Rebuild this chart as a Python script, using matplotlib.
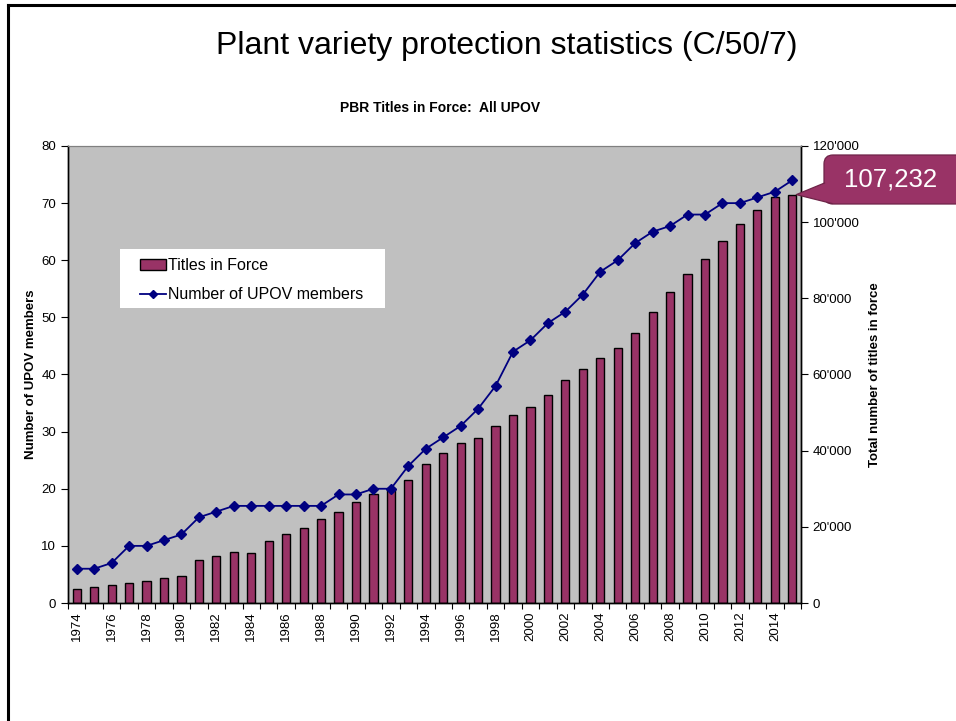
import matplotlib
matplotlib.use("Agg")
import matplotlib.pyplot as plt
from matplotlib.lines import Line2D
from matplotlib.patches import Patch, FancyBboxPatch, Polygon, Rectangle
from matplotlib.ticker import FuncFormatter, MultipleLocator

# --- Data ---
years = list(range(1974, 2016))
titles_in_force = [
    3600, 4300, 4700, 5300, 5800, 6500, 7200, 11300, 12400, 13400,
    13250, 16400, 18100, 19750, 22100, 24000, 26600, 28500, 30300, 32200,
    36400, 39400, 42100, 43200, 46350, 49300, 51350, 54600, 58450, 61450,
    64250, 66900, 70850, 76500, 81600, 86500, 90400, 95050, 99400, 103200,
    106500, 107232,
]
upov_members = [
    6, 6, 7, 10, 10, 11, 12, 15, 16, 17,
    17, 17, 17, 17, 17, 19, 19, 20, 20, 24,
    27, 29, 31, 34, 38, 44, 46, 49, 51, 54,
    58, 60, 63, 65, 66, 68, 68, 70, 70, 71,
    72, 74,
]
callout_text = "107,232"

BAR_COLOR = "#993366"
BAR_EDGE_DARK = "#6e2448"
LINE_COLOR = "#000080"
PLOT_BG = "#C0C0C0"
FONT = ["Liberation Sans", "DejaVu Sans"]

plt.rcParams["font.family"] = FONT

W, H = 956, 721
fig = plt.figure(figsize=(W / 100, H / 100), dpi=100)

# slide frame (left and top edges only)
fig.add_artist(Line2D([8 / W, 8 / W], [0, 1 - 5 / H], color="black", linewidth=2.2))
fig.add_artist(Line2D([8 / W, 1], [1 - 5 / H, 1 - 5 / H], color="black", linewidth=2.2))

fig.text(507 / W, 1 - 46 / H, "Plant variety protection statistics (C/50/7)",
         ha="center", va="center", fontsize=23)
fig.text(440 / W, 1 - 108 / H, "PBR Titles in Force:  All UPOV",
         ha="center", va="center", fontsize=10, fontweight="bold")

x = list(range(len(years)))

ax_line = fig.add_axes([68 / W, 1 - 603 / H, (801 - 68) / W, (603 - 146) / H])
ax_bar = ax_line.twinx()
ax_line.set_zorder(ax_bar.get_zorder() + 1)
ax_line.patch.set_visible(False)
ax_bar.patch.set_visible(True)
ax_bar.patch.set_facecolor(PLOT_BG)

ax_bar.bar(x, titles_in_force, width=0.47, color=BAR_COLOR, edgecolor="black",
           linewidth=1.0, label="Titles in Force")
ax_line.plot(x, upov_members, color=LINE_COLOR, linewidth=1.3, marker="D",
             markersize=5, label="Number of UPOV members")

ax_line.set_xlim(-0.5, len(years) - 0.5)
ax_line.set_ylim(0, 80)
ax_bar.set_ylim(0, 120000)

ax_line.yaxis.set_major_locator(MultipleLocator(10))
ax_bar.yaxis.set_major_locator(MultipleLocator(20000))
ax_bar.yaxis.set_major_formatter(
    FuncFormatter(lambda v, p: f"{int(v):,}".replace(",", "'")))

# x axis: labels every other year, tick marks between categories
ax_line.set_xticks(x[::2])
ax_line.set_xticklabels([str(y) for y in years[::2]], rotation=90)
ax_line.set_xticks([i - 0.5 for i in range(len(years) + 1)], minor=True)
ax_line.tick_params(axis="x", which="major", length=0, pad=6, labelsize=9.5)
ax_line.tick_params(axis="x", which="minor", length=4, width=0.8)
ax_line.tick_params(axis="y", length=5, width=0.8, labelsize=9.5)
ax_bar.tick_params(axis="y", length=5, width=0.8, labelsize=9.5)

for a in (ax_line, ax_bar):
    a.spines["top"].set_color("#808080")
    a.spines["top"].set_linewidth(0.8)
    for s in ("left", "right", "bottom"):
        a.spines[s].set_linewidth(1.0)

ax_line.set_ylabel("Number of UPOV members", fontsize=9.5, fontweight="bold", labelpad=3)
ax_bar.set_ylabel("Total number of titles in force", fontsize=9.5, fontweight="bold", labelpad=7)

# overlay in pixel coordinates for the legend box and the callout
ov = fig.add_axes([0, 0, 1, 1])
ov.set_xlim(0, W)
ov.set_ylim(H, 0)
ov.axis("off")
ov.set_zorder(ax_line.get_zorder() + 1)

ov.add_patch(Rectangle((120, 249), 265, 59, facecolor="white", edgecolor="none"))
handles = [Patch(facecolor=BAR_COLOR, edgecolor="black", linewidth=1.0),
           Line2D([], [], color=LINE_COLOR, linewidth=1.3, marker="D", markersize=4)]
fig.legend(handles, ["Titles in Force", "Number of UPOV members"],
           loc="upper left", bbox_to_anchor=(140 / W, 1 - 258 / H),
           fontsize=11.5, frameon=False, handlelength=1.65, handletextpad=0.12,
           borderpad=0, labelspacing=0.9, borderaxespad=0).set_zorder(ov.get_zorder() + 1)

# callout for the last value
tip = ov.transData.inverted().transform(
    ax_bar.transData.transform((x[-1] + 0.23, titles_in_force[-1])))
ov.add_patch(FancyBboxPatch((824, 155), 150, 49,
                            boxstyle="round,pad=0,rounding_size=9",
                            facecolor=BAR_COLOR, edgecolor=BAR_EDGE_DARK,
                            linewidth=0.9, clip_on=False))
base_top = (824.5, 183)
base_bot = (832, 203.5)
ov.add_patch(Polygon([tuple(tip), base_top, base_bot], closed=True,
                     facecolor=BAR_COLOR, edgecolor="none", clip_on=False))
ov.plot([base_top[0], tip[0], base_bot[0]], [base_top[1], tip[1], base_bot[1]],
        color=BAR_EDGE_DARK, linewidth=0.9, clip_on=False)
ov.text(891, 179, callout_text, ha="center", va="center", fontsize=18.5,
        color="white")

fig.savefig("out.png", dpi=100)
